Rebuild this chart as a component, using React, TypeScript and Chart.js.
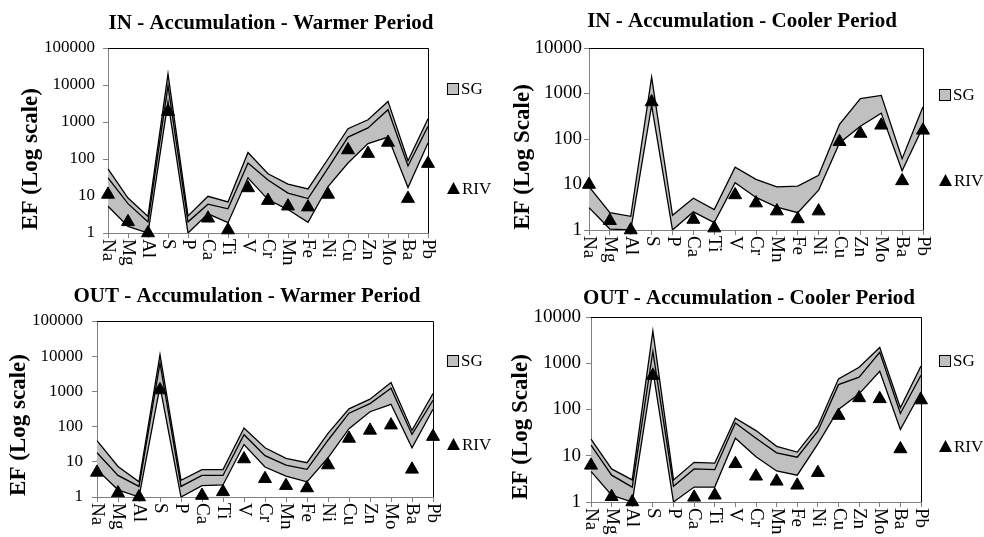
import React, { useEffect, useRef } from "react";
import { Chart, registerables } from "chart.js";
Chart.register(...registerables);

const elements = ["Na", "Mg", "Al", "S", "P", "Ca", "Ti", "V", "Cr", "Mn", "Fe", "Ni", "Cu", "Zn", "Mo", "Ba", "Pb"];

const ticks5 = [1, 10, 100, 1000, 10000, 100000];
const ticks4 = [1, 10, 100, 1000, 10000];

// IN - Warmer
const inWarmMax = [54, 8.8, 2.8, 20000, 2.9, 9.8, 6.9, 150, 40, 21, 15.5, 100, 660, 1150, 3600, 90, 1230];
const inWarmMed = [31, 6.2, 2.0, 9500, 2.0, 6.0, 4.5, 78, 27, 12, 8.5, 57, 390, 690, 2150, 65, 760];
const inWarmMin = [5.3, 1.5, 1.0, 3500, 1.0, 3.3, 1.9, 31, 8, 4.3, 1.95, 18, 78, 260, 390, 17, 270];
const inWarmRiv = [11, 2.0, 1.0, 1900, null, 2.5, 1.2, 16.5, 7.5, 5.3, 5.0, 11, 175, 140, 280, 8.5, 75];

// IN - Cooler
const inCoolMax = [9, 2.4, 2.0, 2300, 2.1, 5.0, 2.8, 24, 13, 8.9, 9.2, 16, 210, 770, 910, 37, 510];
const inCoolMin = [3.1, 1.05, 1.0, 550, 1.0, 2.5, 1.45, 11, 5.2, 3.2, 2.4, 7.5, 82, 190, 370, 20, 185];
const inCoolRiv = [10, 1.6, 1.0, 650, null, 1.7, 1.1, 5.9, 3.9, 2.6, 1.75, 2.6, 87, 132, 200, 12, 155];

// OUT - Warmer
const outWarmMax = [40, 7.4, 2.7, 11000, 3.0, 6.0, 6.0, 91, 25, 12.5, 9.4, 64, 320, 600, 1780, 78, 870];
const outWarmMed = [18, 4.1, 2.0, 6300, 2.0, 4.1, 4.1, 59, 15, 8.1, 6.1, 41, 240, 450, 1230, 60, 560];
const outWarmMin = [6, 1.6, 1.0, 1400, 1.0, 2.1, 2.2, 31, 7.1, 3.9, 2.7, 13, 87, 265, 430, 25, 310];
const outWarmRiv = [5.0, 1.3, 1.0, 1100, null, 1.1, 1.4, 12, 3.3, 2.1, 1.8, 8.1, 46, 78, 110, 6.1, 52];

// OUT - Cooler
const outCoolMax = [23, 5.2, 3.0, 5000, 3.0, 7.2, 6.9, 65, 35, 16, 12, 44, 460, 820, 2200, 109, 870];
const outCoolMed = [17, 3.8, 2.1, 1800, 2.2, 5.2, 5.0, 51, 24, 11.6, 9.3, 34, 345, 500, 1730, 82, 550];
const outCoolMin = [4.6, 1.4, 1.0, 700, 1.0, 2.1, 2.1, 24, 9.5, 4.7, 3.8, 18, 100, 218, 670, 37, 240];
const outCoolRiv = [6.2, 1.3, 1.0, 540, null, 1.26, 1.4, 6.7, 3.6, 2.8, 2.3, 4.3, 74, 178, 170, 14, 160];

const SERIF = "'Liberation Serif', 'Times New Roman', serif";

type PanelCfg = {
  title: string;
  yTitle: string;
  yTicks: number[];
  max: number[];
  med: number[] | null;
  min: number[];
  riv: (number | null)[];
  left: number;
  top: number;
  w: number;
  h: number;
  area: { l: number; r: number; t: number; b: number };
  titleX: number;
  titleY: number;
  yTitleX: number;
  yTitleY: number;
  sgY: number;
  rivY: number;
  tickFont: number;
  tickPad: number;
};

const panels: PanelCfg[] = [
  {
    title: "IN - Accumulation - Warmer Period", yTitle: "EF (Log scale)", yTicks: ticks5,
    max: inWarmMax, med: inWarmMed, min: inWarmMin, riv: inWarmRiv,
    left: 0, top: 0, w: 492, h: 268, area: { l: 108, r: 428, t: 48, b: 233 },
    titleX: 271, titleY: 29, yTitleX: 31, yTitleY: 159, sgY: 89, rivY: 189, tickFont: 17, tickPad: 8,
  },
  {
    title: "IN - Accumulation - Cooler Period", yTitle: "EF (Log Scale)", yTicks: ticks4,
    max: inCoolMax, med: null, min: inCoolMin, riv: inCoolRiv,
    left: 492, top: 0, w: 492, h: 268, area: { l: 97, r: 431, t: 48, b: 230 },
    titleX: 250, titleY: 27, yTitleX: 31, yTitleY: 157, sgY: 95, rivY: 181, tickFont: 19, tickPad: 2,
  },
  {
    title: "OUT - Accumulation - Warmer Period", yTitle: "EF (Log scale)", yTicks: ticks5,
    max: outWarmMax, med: outWarmMed, min: outWarmMin, riv: outWarmRiv,
    left: 0, top: 268, w: 492, h: 269, area: { l: 97, r: 433, t: 53, b: 229 },
    titleX: 247, titleY: 34, yTitleX: 19, yTitleY: 157, sgY: 93, rivY: 177, tickFont: 17, tickPad: 9,
  },
  {
    title: "OUT - Accumulation - Cooler Period", yTitle: "EF (Log Scale)", yTicks: ticks4,
    max: outCoolMax, med: outCoolMed, min: outCoolMin, riv: outCoolRiv,
    left: 492, top: 268, w: 492, h: 269, area: { l: 99, r: 429, t: 49, b: 234 },
    titleX: 257, titleY: 36, yTitleX: 29, yTitleY: 159, sgY: 93, rivY: 179, tickFont: 19, tickPad: 5,
  },
];

function PanelChart({ cfg }: { cfg: PanelCfg }) {
  const ref = useRef<HTMLCanvasElement | null>(null);
  useEffect(() => {
    if (!ref.current) return;
    const lineBase = {
      type: "line" as const,
      borderColor: "#000000",
      borderWidth: 1.3,
      pointRadius: 0,
      pointHoverRadius: 0,
      tension: 0,
      order: 1,
    };
    const datasets: any[] = [];
    const minIndex = cfg.med ? 2 : 1;
    datasets.push({ ...lineBase, label: "SG", data: cfg.max, fill: minIndex, backgroundColor: "#c0c0c0" });
    if (cfg.med) datasets.push({ ...lineBase, label: "SG median", data: cfg.med, fill: false });
    datasets.push({ ...lineBase, label: "SG min", data: cfg.min, fill: false });
    datasets.push({
      type: "line",
      label: "RIV",
      data: cfg.riv,
      showLine: false,
      pointStyle: "triangle",
      pointRadius: 7.5,
      pointBackgroundColor: "#000000",
      pointBorderColor: "#000000",
      pointBorderWidth: 1,
      clip: false,
      order: 0,
    });

    const overlay = {
      id: "overlay",
      afterDraw(chart: any) {
        const ctx = chart.ctx;
        const a = chart.chartArea;
        ctx.save();
        // frame top & right
        ctx.strokeStyle = "#000000";
        ctx.lineWidth = 1;
        ctx.beginPath();
        ctx.moveTo(Math.round(a.left), Math.round(a.top) + 0.5);
        ctx.lineTo(Math.round(a.right) + 0.5, Math.round(a.top) + 0.5);
        ctx.lineTo(Math.round(a.right) + 0.5, Math.round(a.bottom));
        ctx.stroke();
        ctx.fillStyle = "#000000";
        // title
        ctx.font = `bold 21px ${SERIF}`;
        ctx.textAlign = "center";
        ctx.textBaseline = "alphabetic";
        ctx.fillText(cfg.title, cfg.titleX, cfg.titleY);
        // y title
        ctx.save();
        ctx.translate(cfg.yTitleX, cfg.yTitleY);
        ctx.rotate(-Math.PI / 2);
        ctx.font = `bold 23px ${SERIF}`;
        ctx.textAlign = "center";
        ctx.textBaseline = "middle";
        ctx.fillText(cfg.yTitle, 0, 0);
        ctx.restore();
        // x labels
        const xs = chart.scales.x;
        ctx.font = `19px ${SERIF}`;
        elements.forEach((lab, i) => {
          const x = xs.getPixelForTick(i);
          ctx.save();
          ctx.translate(x, a.bottom + 6);
          ctx.rotate(Math.PI / 2);
          ctx.textAlign = "left";
          ctx.textBaseline = "middle";
          ctx.fillText(lab, 0, 0);
          ctx.restore();
        });
        // legend
        const lx = 447;
        ctx.font = `17px ${SERIF}`;
        ctx.textAlign = "left";
        ctx.textBaseline = "middle";
        ctx.fillStyle = "#c0c0c0";
        ctx.fillRect(lx, cfg.sgY - 6, 12, 12);
        ctx.strokeStyle = "#000000";
        ctx.lineWidth = 1;
        ctx.strokeRect(lx + 0.5, cfg.sgY - 5.5, 11, 11);
        ctx.fillStyle = "#000000";
        ctx.fillText("SG", lx + 14, cfg.sgY + 1);
        ctx.beginPath();
        ctx.moveTo(lx + 6.5, cfg.rivY - 7);
        ctx.lineTo(lx + 13, cfg.rivY + 5);
        ctx.lineTo(lx, cfg.rivY + 5);
        ctx.closePath();
        ctx.fill();
        ctx.fillText("RIV", lx + 15, cfg.rivY + 1);
        ctx.restore();
      },
    };

    const chart = new Chart(ref.current, {
      type: "line",
      data: { labels: elements, datasets },
      plugins: [overlay],
      options: {
        responsive: false,
        animation: false,
        events: [],
        layout: {
          padding: { top: cfg.area.t, left: 0, right: cfg.w - cfg.area.r, bottom: 0 },
        },
        plugins: {
          legend: { display: false },
          title: { display: false },
          tooltip: { enabled: false },
          filler: { drawTime: "beforeDatasetsDraw" },
        } as any,
        scales: {
          x: {
            type: "category",
            offset: false,
            ticks: { display: false },
            grid: { display: true, drawOnChartArea: false, drawTicks: true, tickLength: 5, color: "#808080" },
            border: { display: true, color: "#808080", width: 1 },
            afterFit: (s: any) => {
              s.height = cfg.h - cfg.area.b;
            },
          },
          y: {
            type: "logarithmic",
            min: cfg.yTicks[0],
            max: cfg.yTicks[cfg.yTicks.length - 1],
            afterBuildTicks: (s: any) => {
              s.ticks = cfg.yTicks.map((v) => ({ value: v }));
            },
            ticks: {
              color: "#000000",
              font: { family: SERIF, size: cfg.tickFont },
              padding: cfg.tickPad,
              callback: (v: any) => String(v),
            },
            grid: { display: true, drawOnChartArea: false, drawTicks: true, tickLength: 5, color: "#808080" },
            border: { display: true, color: "#808080", width: 1 },
            afterFit: (s: any) => {
              s.width = cfg.area.l;
            },
          },
        },
      } as any,
    });
    return () => chart.destroy();
  }, [cfg]);
  return (
    <div style={{ position: "absolute", left: cfg.left, top: cfg.top, width: cfg.w, height: cfg.h }}>
      <canvas ref={ref} width={cfg.w} height={cfg.h} style={{ display: "block" }} />
    </div>
  );
}

export default function App() {
  return (
    <div style={{ position: "absolute", left: 0, top: 0, width: 984, height: 537, background: "#ffffff", overflow: "hidden" }}>
      {panels.map((p, i) => (
        <PanelChart key={i} cfg={p} />
      ))}
    </div>
  );
}
